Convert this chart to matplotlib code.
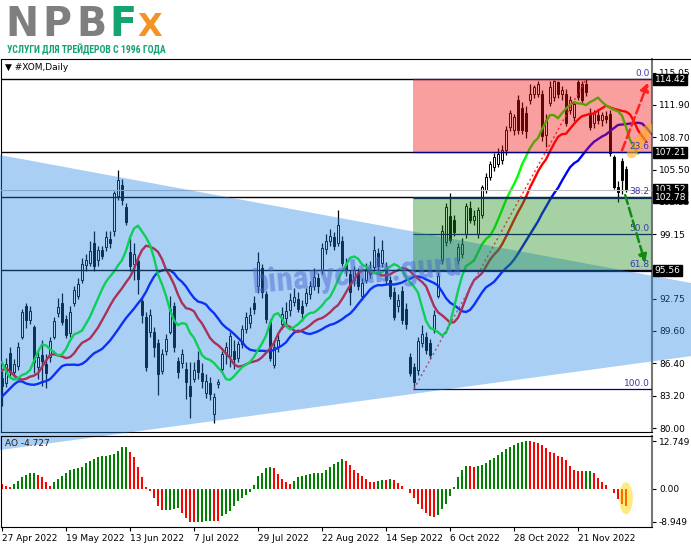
import numpy as np
import matplotlib
matplotlib.use('Agg')
import matplotlib.pyplot as plt
from matplotlib import font_manager as fm
from matplotlib.patches import Polygon, Rectangle, Ellipse
from matplotlib.lines import Line2D
from matplotlib.transforms import blended_transform_factory

plt.rcParams['font.family'] = ['DejaVu Sans']

# ---------------- data (daily bars, bar 0 = 27 Apr 2022) ----------------
opens = [
    84.9, 84.4, 87.4, 85.5, 86.1, 89.0, 92.0, 90.7, 90.0, 86.0,
    87.2, 86.3, 87.0, 89.0, 91.4, 92.3, 90.8, 89.4, 92.3, 93.0,
    94.6, 96.1, 96.3, 98.3, 96.6, 97.6, 97.9, 98.7, 99.5, 102.9,
    104.0, 101.8, 97.4, 96.2, 96.5, 92.5, 91.0, 89.5, 89.5, 88.4,
    85.6, 87.6, 89.5, 92.0, 86.6, 86.4, 85.8, 84.2, 84.8, 86.7,
    85.4, 83.5, 84.4, 81.4, 84.3, 85.8, 87.3, 87.1, 87.6, 86.9,
    88.3, 89.8, 90.4, 92.3, 94.0, 95.8, 93.2, 90.5, 86.2, 88.0,
    90.3, 90.9, 91.7, 92.4, 92.7, 92.0, 92.3, 93.2, 94.0, 94.8,
    95.6, 97.7, 98.5, 98.9, 98.3, 98.5, 96.2, 95.2, 94.6, 95.3,
    93.0, 94.6, 95.7, 95.9, 97.3, 96.3, 95.7, 94.6, 93.4, 92.0,
    93.5, 91.8, 87.0, 86.0, 85.7, 88.4, 89.0, 88.4, 89.7, 93.0,
    96.6, 98.4, 100.9, 100.5, 96.6, 97.2, 99.2, 101.7, 100.5, 99.2,
    101.0, 103.5, 104.8, 105.8, 106.1, 106.5, 107.4, 109.7, 109.4, 112.4,
    111.6, 111.1, 112.4, 113.0, 113.0, 113.0, 108.9, 112.1, 112.7, 114.2,
    113.0, 113.0, 111.4, 110.7, 114.2, 114.0, 114.0, 111.1, 110.1, 110.9,
    110.4, 110.8, 111.0, 106.8, 103.8, 106.4, 105.6,
]
highs = [
    85.6, 86.9, 88.0, 86.8, 88.5, 91.8, 92.3, 92.0, 90.2, 87.7,
    88.7, 87.3, 89.0, 91.0, 92.8, 93.3, 91.2, 92.0, 94.0, 94.8,
    96.8, 97.2, 98.5, 99.5, 98.0, 98.0, 99.5, 99.5, 103.4, 105.5,
    104.6, 102.2, 98.8, 98.3, 97.0, 93.0, 91.5, 91.8, 90.0, 88.8,
    87.8, 89.3, 93.0, 92.4, 87.0, 87.8, 86.5, 86.5, 86.5, 87.6,
    86.4, 85.3, 85.0, 83.5, 84.8, 87.6, 88.5, 89.5, 88.7, 88.6,
    90.2, 91.5, 91.9, 93.0, 97.4, 96.2, 93.5, 90.8, 88.4, 89.3,
    91.9, 92.4, 93.3, 93.8, 93.4, 92.6, 93.8, 94.5, 95.8, 95.3,
    98.3, 99.2, 99.6, 99.4, 101.5, 99.0, 96.8, 95.6, 96.0, 95.8,
    94.8, 96.3, 96.5, 99.0, 97.8, 98.6, 96.4, 95.0, 93.9, 93.2,
    94.0, 92.3, 87.4, 86.4, 89.0, 90.2, 89.5, 88.8, 91.7, 95.4,
    100.0, 102.2, 103.2, 101.0, 98.3, 98.8, 102.2, 102.4, 101.5, 101.8,
    104.0, 105.2, 106.4, 107.2, 107.6, 107.9, 109.8, 111.4, 111.0, 112.9,
    112.2, 111.8, 114.0, 113.9, 114.3, 113.4, 111.0, 114.3, 114.38, 114.3,
    113.8, 113.5, 112.8, 112.3, 114.35, 114.3, 114.42, 111.6, 111.4, 111.5,
    111.2, 111.3, 111.4, 107.0, 104.4, 106.7, 105.9,
]
lows = [
    82.2, 84.1, 85.0, 85.0, 85.7, 88.8, 89.9, 90.3, 85.4, 84.8,
    84.2, 84.0, 86.5, 88.8, 91.0, 90.2, 88.9, 89.0, 92.0, 92.7,
    94.3, 95.5, 96.0, 95.5, 96.0, 96.7, 97.5, 97.8, 99.0, 102.5,
    102.0, 100.0, 95.5, 94.6, 93.2, 90.4, 85.6, 89.0, 87.0, 83.3,
    85.3, 87.2, 89.3, 87.5, 84.9, 85.9, 82.9, 81.0, 84.5, 84.8,
    84.0, 83.0, 82.8, 80.5, 84.0, 85.5, 86.3, 86.0, 85.8, 86.5,
    87.9, 89.4, 89.9, 91.3, 93.3, 92.8, 90.4, 86.6, 85.9, 87.5,
    89.8, 90.3, 91.1, 92.0, 91.5, 90.6, 92.0, 92.7, 93.6, 93.3,
    95.2, 97.2, 98.0, 97.6, 98.0, 96.0, 95.0, 92.1, 94.0, 93.6,
    92.6, 94.3, 94.8, 95.5, 95.5, 95.9, 94.2, 92.7, 90.7, 91.5,
    90.3, 89.8, 85.1, 83.87, 85.2, 88.0, 87.3, 86.8, 89.4, 92.8,
    96.2, 98.0, 98.3, 99.0, 96.2, 96.8, 98.8, 100.2, 100.0, 98.8,
    100.7, 103.2, 104.5, 105.4, 105.8, 106.1, 107.0, 109.3, 108.9, 109.0,
    109.0, 108.6, 112.0, 112.6, 112.7, 108.3, 107.7, 111.8, 112.3, 112.6,
    112.4, 109.8, 111.0, 110.3, 112.4, 112.0, 112.8, 109.4, 109.6, 110.0,
    109.8, 110.1, 106.9, 103.6, 102.35, 103.1, 103.3,
]
closes = [
    84.2, 86.3, 85.5, 86.3, 88.0, 91.5, 90.7, 91.6, 86.5, 87.0,
    86.6, 85.4, 88.6, 90.6, 91.9, 90.5, 89.2, 91.5, 93.6, 94.2,
    96.2, 96.6, 97.5, 96.0, 97.6, 97.0, 98.9, 98.3, 103.2, 104.5,
    102.5, 100.3, 96.0, 97.2, 94.7, 91.2, 86.0, 91.2, 88.0, 85.3,
    87.3, 88.8, 91.8, 88.0, 85.5, 87.3, 84.5, 83.2, 85.7, 85.5,
    84.6, 84.6, 83.4, 83.1, 84.5, 87.3, 88.0, 89.1, 86.8, 88.3,
    89.8, 91.0, 91.2, 91.8, 96.4, 93.4, 90.8, 86.9, 88.0, 88.7,
    91.3, 91.6, 92.6, 92.9, 91.8, 91.4, 93.3, 94.0, 94.9, 94.0,
    97.8, 98.5, 99.0, 98.0, 100.0, 96.3, 95.6, 93.4, 95.6, 94.0,
    94.3, 95.6, 95.2, 97.6, 96.0, 97.6, 94.6, 93.0, 91.0, 92.6,
    90.7, 90.3, 85.4, 84.5, 88.6, 89.3, 87.7, 87.2, 91.2, 95.0,
    99.5, 101.8, 98.6, 99.4, 97.9, 98.2, 101.9, 100.5, 100.9, 101.5,
    103.8, 104.8, 106.1, 106.8, 107.1, 107.4, 109.4, 111.1, 110.7, 109.4,
    109.4, 109.3, 113.0, 113.7, 114.0, 108.8, 110.4, 113.7, 114.3, 113.0,
    113.4, 110.1, 112.4, 112.0, 112.7, 112.4, 113.2, 109.7, 111.1, 110.4,
    110.9, 110.5, 107.2, 103.8, 103.3, 104.5, 103.52,
]
ao_values = [
    1.2, 0.6, 0.55, 1.3, 2.1, 3.2, 3.7, 4.2, 4.25, 3.6,
    3.0, 1.7, 0.8, 1.9, 2.7, 3.3, 4.2, 5.0, 5.3, 5.5,
    5.7, 6.8, 7.5, 7.9, 8.4, 8.75, 8.8, 9.0, 9.3, 10.2,
    11.05, 11.1, 9.9, 8.4, 5.9, 3.1, 0.45, -0.7, -2.5, -4.7,
    -5.8, -5.75, -5.65, -5.6, -5.2, -6.5, -7.8, -8.9, -8.949, -8.9,
    -8.85, -8.7, -8.6, -8.75, -8.8, -7.4, -6.8, -6.0, -4.7, -3.4,
    -2.5, -1.6, -1.0, 0.9, 3.3, 4.3, 5.5, 5.9, 5.5, 4.0,
    2.6, 1.7, 1.2, 2.1, 3.1, 3.5, 3.6, 3.8, 4.2, 4.25,
    4.3, 4.9, 5.9, 6.6, 7.2, 7.9, 7.3, 6.2, 5.1, 4.2,
    3.3, 2.5, 1.9, 1.7, 2.0, 2.3, 2.2, 2.6, 2.4, 1.6,
    0.6, -0.2, -1.1, -2.6, -4.2, -5.6, -6.6, -7.4, -7.7, -7.0,
    -5.6, -4.2, -2.0, 0.4, 3.0, 5.0, 6.0, 5.95, 5.8, 6.0,
    6.4, 6.9, 7.6, 8.2, 9.0, 9.8, 10.5, 11.1, 11.7, 12.2,
    12.6, 12.749, 12.7, 12.5, 12.3, 11.7, 10.8, 9.9, 9.6, 8.8,
    8.4, 7.6, 6.1, 5.0, 4.8, 4.65, 4.75, 4.8, 4.1, 2.8,
    1.8, 1.0, 0.0, -1.1, -2.8, -4.0, -4.727,
]
# alligator values on the first visible bars (before the smoothing has data)
jaw_lead = [83.1, 83.5, 83.9, 84.3, 84.6, 84.6, 84.4, 84.3]
teeth_lead = [85.7, 85.9, 85.6, 85.2, 84.9]
lips_lead = [86.5, 85.6, 85.0]

date_labels = ['27 Apr 2022', '19 May 2022', '13 Jun 2022', '7 Jul 2022', '29 Jul 2022',
               '22 Aug 2022', '14 Sep 2022', '6 Oct 2022', '28 Oct 2022', '21 Nov 2022']
label_bars = [0, 16, 32, 48, 64, 80, 96, 112, 128, 144]
price_ticks = [115.05, 111.90, 108.70, 105.50, 102.35, 99.15, 95.95, 92.75, 89.60, 86.40, 83.20, 80.00]
hidden_ticks = [95.95]   # covered by the 95.56 box on the chart
ao_ticks = [12.749, 0.0, -8.949]
ao_tick_labels = ['12.749', '0.00', '-8.949']

fib_low_bar, fib_low = 103, 83.87
fib_high_bar, fib_high = 146, 114.42
fib_ratios = [0.0, 23.6, 38.2, 50.0, 61.8, 100.0]
level_lines = [114.42, 107.21, 102.78, 95.56]
bid_price = 103.52
box_prices = [103.52, 114.42, 107.21, 102.78, 95.56]
red_zone = (107.21, 114.42)
green_zone = (95.56, 102.78)
tri_upper = [(-0.5, 106.95), (172.25, 94.32)]
tri_lower = [(-0.5, 77.83), (172.25, 87.1)]
up_arrow = [(155.0, 107.4), (161.5, 114.1)]
down_arrow = [(155.8, 103.0), (160.8, 96.3)]
line_mark = [(157.4, 107.1), (161.7, 109.6)]
ao_mark = (156.0, -2.6)

# ---------------- helpers ----------------
W, H = 691, 549
XMIN, XMAX = -0.25, 162.5


def fx(px):
    return px / W


def fy(py):
    return 1 - py / H


def smma(values, period, start):
    out = []
    prev = start
    for v in values:
        prev = (prev * (period - 1) + v) / period
        out.append(prev)
    return out


def narrow_family():
    for name in ['Roboto Condensed', 'Liberation Sans Narrow', 'Open Sans Condensed',
                 'Noto Sans Condensed', 'DejaVu Sans Condensed']:
        try:
            fm.findfont(fm.FontProperties(family=name), fallback_to_default=False)
            return name
        except ValueError:
            pass
    return None


fig = plt.figure(figsize=(6.91, 5.49), dpi=100)
ax = fig.add_axes([fx(1), fy(432), fx(652) - fx(1), (432 - 59) / H])
ao_ax = fig.add_axes([fx(1), fy(527), fx(652) - fx(1), (527 - 436) / H])
ao_ax.patch.set_alpha(0)

o, h, l, c = (np.array(a) for a in (opens, highs, lows, closes))
x = np.arange(len(c))

# candles
up = c >= o
ax.vlines(x, l, h, color='black', lw=0.9, zorder=2)
body_lo = np.minimum(o, c)
body_h = np.maximum(np.abs(c - o), 0.06)
ax.bar(x[up], body_h[up], bottom=body_lo[up], width=0.7, color='white',
       edgecolor='black', linewidth=0.7, zorder=3)
ax.bar(x[~up], body_h[~up], bottom=body_lo[~up], width=0.7, color='black',
       edgecolor='black', linewidth=0.7, zorder=3)

# alligator
median = (h + l) / 2
jaw = jaw_lead + smma(median, 13, jaw_lead[-1])
teeth = teeth_lead + smma(median, 8, teeth_lead[-1])
lips = lips_lead + smma(median, 5, lips_lead[-1])
ax.plot(np.arange(len(jaw)), jaw, color='#0000ff', lw=1.7, zorder=4)
ax.plot(np.arange(len(teeth)), teeth, color='#ff0000', lw=1.7, zorder=4)
ax.plot(np.arange(len(lips)), lips, color='#00ff00', lw=1.7, zorder=4)

# horizontal levels
for p in level_lines:
    ax.axhline(p, color='black', lw=1.0, zorder=4.5)
ax.axhline(bid_price, color='#c0c0c0', lw=0.8, zorder=4.4)

span = fib_high - fib_low
for r in fib_ratios:
    p = fib_high - span * r / 100
    ax.hlines(p, fib_low_bar - 0.25, XMAX, color='#000080', lw=0.9, zorder=4.6)
    ax.text(XMAX - 0.6, p + 0.12, f'{r:.1f}', color='#3a3aa8', fontsize=6.5,
            ha='right', va='bottom', zorder=7)
ax.plot([fib_low_bar, fib_high_bar], [fib_low, fib_high], color='#ff2a2a', lw=1.0,
        ls=(0, (1.5, 2.0)), zorder=4.6)

# shaded objects
tri = Polygon([tri_upper[0], tri_upper[1], tri_lower[1], tri_lower[0]], closed=True,
              facecolor='#1e82e6', alpha=0.38, edgecolor='none', zorder=5, clip_on=False)
ax.add_patch(tri)
zone_x = fib_low_bar - 0.25
ax.add_patch(Rectangle((zone_x, red_zone[0]), XMAX - zone_x, red_zone[1] - red_zone[0],
                       facecolor='#f01111', alpha=0.4, edgecolor='none', zorder=5))
ax.add_patch(Rectangle((zone_x, green_zone[0]), XMAX - zone_x, green_zone[1] - green_zone[0],
                       facecolor='#1e8e1e', alpha=0.4, edgecolor='none', zorder=5))

narrow = narrow_family()
ax.text(88.75, 95.1, 'binaryclub.guru', fontsize=24, fontweight='bold',
        family=[narrow or 'DejaVu Sans', 'DejaVu Sans'],
        color='#4a68d0', alpha=0.5, rotation=5, ha='center', va='center', zorder=6)

# arrows and highlight
ax.plot([line_mark[0][0], line_mark[1][0]], [line_mark[0][1], line_mark[1][1]],
        color='#ffb020', lw=7, alpha=0.6, solid_capstyle='round', zorder=6)
ax.annotate('', xy=up_arrow[1], xytext=up_arrow[0], zorder=8,
            arrowprops=dict(arrowstyle='-|>', color='#ff2020', lw=1.8, ls='--', mutation_scale=12,
                            shrinkA=0, shrinkB=0))
ax.annotate('', xy=down_arrow[1], xytext=down_arrow[0], zorder=8,
            arrowprops=dict(arrowstyle='-|>', color='#138a13', lw=1.8, ls='--', mutation_scale=12,
                            shrinkA=0, shrinkB=0))

ax.text(0.006, 0.99, '\u25bc #XOM,Daily', transform=ax.transAxes, fontsize=6.5,
        va='top', ha='left', color='black', zorder=9)

# axes of price panel
ax.set_xlim(XMIN, XMAX)
ax.set_ylim(79.61, 116.43)
ax.yaxis.tick_right()
ax.set_yticks(price_ticks)
ax.set_yticklabels(['' if t in hidden_ticks else f'{t:.2f}' for t in price_ticks])
ax.tick_params(axis='y', length=3, width=0.8, labelsize=6.5, pad=2)
ax.tick_params(axis='x', bottom=False, labelbottom=False)
for s in ['top', 'left', 'bottom']:
    ax.spines[s].set_color('black')
    ax.spines[s].set_linewidth(0.8)
ax.spines['right'].set_color('#777777')
ax.spines['right'].set_linewidth(1.5)

bt = blended_transform_factory(ax.transAxes, ax.transData)
for p in box_prices:
    ax.text(1.004, p, f'{p:.2f}', transform=bt, fontsize=6.5, color='white', va='center',
            ha='left', zorder=10, clip_on=False,
            bbox=dict(boxstyle='square,pad=0.15', fc='black', ec='black'))

# awesome oscillator
ao = np.array(ao_values)
ao_colors = ['#ff0000'] + ['#008000' if ao[i] > ao[i - 1] else '#ff0000' for i in range(1, len(ao))]
ao_ax.bar(x, ao, width=0.72, color=ao_colors, zorder=2)
ao_ax.add_patch(Ellipse(ao_mark, width=3.4, height=8.6, facecolor='#ffd700', alpha=0.5,
                        edgecolor='none', zorder=3))
ao_ax.text(0.006, 0.97, f'AO {ao_values[-1]:.3f}', transform=ao_ax.transAxes, fontsize=6.5,
           va='top', ha='left', color='#202020', zorder=4)
ao_ax.set_xlim(XMIN, XMAX)
ao_ax.set_ylim(-10.3, 14.1)
ao_ax.yaxis.tick_right()
ao_ax.set_yticks(ao_ticks)
ao_ax.set_yticklabels(ao_tick_labels)
ao_ax.set_xticks(label_bars)
ao_ax.set_xticklabels(date_labels, ha='left')
ao_ax.tick_params(axis='y', length=3, width=0.8, labelsize=6.5, pad=2)
ao_ax.tick_params(axis='x', length=3, width=0.8, labelsize=6.5, pad=2)
for s in ['top', 'left', 'bottom']:
    ao_ax.spines[s].set_color('black')
    ao_ax.spines[s].set_linewidth(0.8)
ao_ax.spines['right'].set_color('#777777')
ao_ax.spines['right'].set_linewidth(1.5)

fig.add_artist(Line2D([fx(652), 1], [fy(59), fy(59)], color='black', lw=0.8))

# logo, letter by letter to get the wide spacing of the original
logo_letters = ['N', 'P', 'B', 'F', 'X']
logo_x = [5, 42, 76, 109, 137]
logo_colors = ['#7f7f7f', '#7f7f7f', '#7f7f7f', '#13a56f', '#f39324']
logo_sizes = [28.5, 28.5, 28.5, 28.5, 23]
for ch, px, col, sz in zip(logo_letters, logo_x, logo_colors, logo_sizes):
    fig.text(fx(px), fy(36), ch, fontsize=sz, fontweight='bold', color=col,
             ha='left', va='baseline')
if narrow:
    sub_kw = dict(family=[narrow, 'DejaVu Sans'], fontsize=7.0)
else:
    sub_kw = dict(family=['Roboto', 'DejaVu Sans'], fontsize=5.4)
fig.text(fx(7), fy(53), 'УСЛУГИ ДЛЯ ТРЕЙДЕРОВ С 1996 ГОДА', fontweight='bold',
         color='#13a56f', ha='left', va='baseline', **sub_kw)

fig.savefig('out.png', dpi=100, facecolor='white')
